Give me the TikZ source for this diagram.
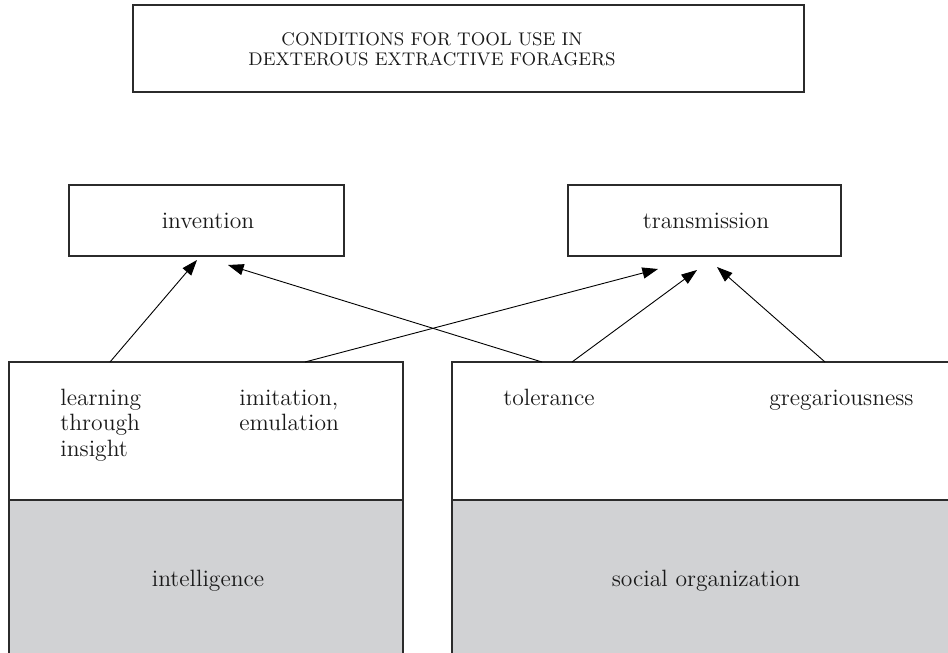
\documentclass[tikz,border=0pt]{standalone}
\usetikzlibrary{arrows.meta}
\definecolor{boxgray}{HTML}{D1D2D4}
\definecolor{linec}{HTML}{2B2B2B}
\begin{document}
\begin{tikzpicture}[x=0.5pt,y=-0.5pt,
  box/.style={draw=linec, line width=0.65pt, inner sep=0pt},
  graybox/.style={box, fill=boxgray},
  arr/.style={draw=black, line width=0.45pt, -{Triangle[length=7.8pt,width=5.6pt]}},
  bodytext/.style={font=\fontsize{11.8}{12.75}\selectfont, inner sep=0pt, text=black!90},
  titletext/.style={font=\fontsize{9.15}{10}\selectfont, inner sep=0pt, align=center, text=black!90}]
\useasboundingbox (0,0) rectangle (948,653);
\clip (0,0) rectangle (948,653);
% title
\node[box, minimum width=335.5pt, minimum height=43.5pt] (title) at (468.5,48.5) {};
\node[titletext, anchor=base] (tl1) at (432,45) {CONDITIONS FOR TOOL USE IN};
\node[titletext, anchor=base] (tl2) at (432,65) {DEXTEROUS EXTRACTIVE FORAGERS};
% top boxes
\node[box, minimum width=137.5pt, minimum height=35.5pt] (inv) at (206.5,220.5) {};
\node[bodytext, anchor=base] (invt) at (208,228) {invention};
\node[box, minimum width=136.5pt, minimum height=35.5pt] (trans) at (704.5,220.5) {};
\node[bodytext, anchor=base] (transt) at (706,228) {transmission};
% bottom left
\node[box, minimum width=197pt, minimum height=69pt] (lu) at (206,431) {};
\node[graybox, minimum width=197pt, minimum height=85pt] (ll) at (206,585) {};
\node[bodytext, anchor=base west] (lrn) at (60,405) {learning};
\node[bodytext, anchor=base west] (thr) at (60,430.5) {through};
\node[bodytext, anchor=base west] (ins) at (60,456) {insight};
\node[bodytext, anchor=base west] (imi) at (239,405) {imitation,};
\node[bodytext, anchor=base west] (emu) at (239,430.5) {emulation};
\node[bodytext, anchor=base] (intl) at (208,586) {intelligence};
% bottom right
\node[box, minimum width=260pt, minimum height=69pt] (ru) at (712,431) {};
\node[graybox, minimum width=260pt, minimum height=85pt] (rl) at (712,585) {};
\node[bodytext, anchor=base west] (tol) at (503,405) {tolerance};
\node[bodytext, anchor=base west] (greg) at (769,405) {gregariousness};
\node[bodytext, anchor=base] (soc) at (706,586) {social organization};
% connector end points
\coordinate (s1) at (110,362);
\coordinate (s2) at (305,362);
\coordinate (s3) at (542,362);
\coordinate (s4) at (572,362);
\coordinate (s5) at (825,362);
\coordinate (e1) at (197,260);
\coordinate (e2) at (228,265);
\coordinate (e3) at (658,269);
\coordinate (e4) at (697,270);
\coordinate (e5) at (717,267);
\draw[arr] (s1) -- (e1);
\draw[arr] (s3) -- (e2);
\draw[arr] (s2) -- (e3);
\draw[arr] (s4) -- (e4);
\draw[arr] (s5) -- (e5);
\end{tikzpicture}
\end{document}
